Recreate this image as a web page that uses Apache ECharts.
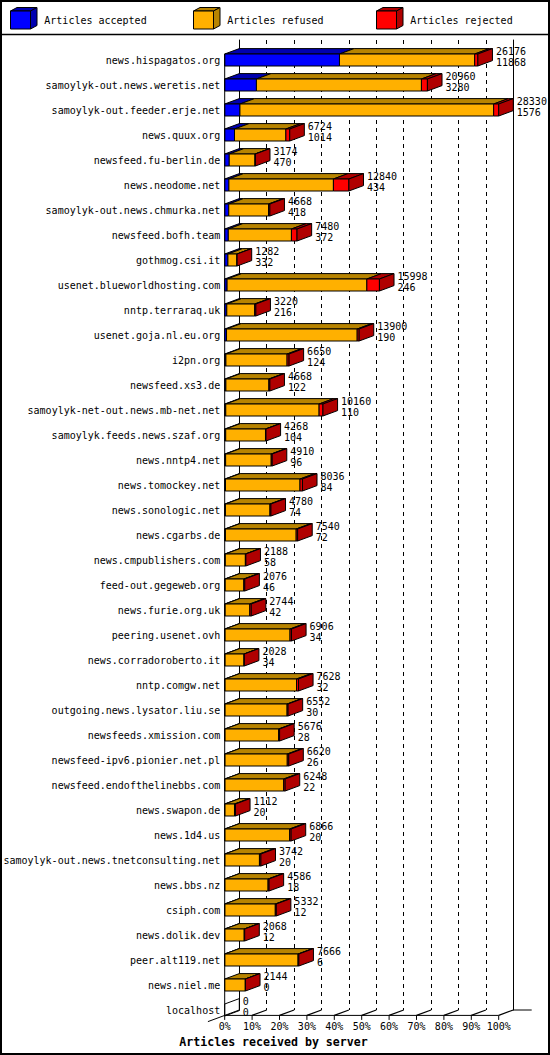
<!DOCTYPE html>
<html>
<head>
<meta charset="utf-8">
<script src="https://cdn.jsdelivr.net/npm/echarts@6/dist/echarts.min.js"></script>
<style>html,body{margin:0;padding:0;background:#fff}#c{width:550px;height:1055px}</style>
</head>
<body>
<div id="c"></div>
<script>
const hosts = ['news.hispagatos.org','samoylyk-out.news.weretis.net','samoylyk-out.feeder.erje.net','news.quux.org','newsfeed.fu-berlin.de','news.neodome.net','samoylyk-out.news.chmurka.net','newsfeed.bofh.team','gothmog.csi.it','usenet.blueworldhosting.com','nntp.terraraq.uk','usenet.goja.nl.eu.org','i2pn.org','newsfeed.xs3.de','samoylyk-net-out.news.mb-net.net','samoylyk.feeds.news.szaf.org','news.nntp4.net','news.tomockey.net','news.sonologic.net','news.cgarbs.de','news.cmpublishers.com','feed-out.gegeweb.org','news.furie.org.uk','peering.usenet.ovh','news.corradoroberto.it','nntp.comgw.net','outgoing.news.lysator.liu.se','newsfeeds.xmission.com','newsfeed-ipv6.pionier.net.pl','newsfeed.endofthelinebbs.com','news.swapon.de','news.1d4.us','samoylyk-out.news.tnetconsulting.net','news.bbs.nz','csiph.com','news.dolik.dev','peer.alt119.net','news.niel.me','localhost'];
const offered = [26176,20960,28330,6724,3174,12840,4668,7480,1282,15998,3220,13900,6650,4668,10160,4268,4910,8036,4780,7540,2188,2076,2744,6906,2028,7628,6552,5676,6620,6248,1112,6866,3742,4586,5332,2068,7666,2144,0];
const accepted = [11868,3280,1576,1014,470,434,418,372,332,246,216,190,124,122,110,104,96,84,74,72,58,46,42,34,34,32,30,28,26,22,20,20,20,18,12,12,6,0,0];
const rejected = [330,620,520,400,40,1600,130,580,10,1300,120,200,200,100,400,50,100,250,100,150,50,100,150,150,30,200,100,100,150,150,100,150,150,100,100,50,80,10,0];
const xTicks = [0,10,20,30,40,50,60,70,80,90,100];
const seriesNames = ['Articles accepted','Articles refused','Articles rejected'];
const frontColors = ['#0000ff','#ffb000','#ff0000'];
const darkColors = ['#0000b0','#b88400','#b00000'];

const maxOffered = Math.max(...offered);
const refused = offered.map((o,i)=>o-accepted[i]-rejected[i]);
const pct = v => v / maxOffered * 100;
const barData = hosts.map((h,i)=>[i, pct(accepted[i]), pct(refused[i]), pct(rejected[i]), offered[i], accepted[i]]);

const DX = 14.6, DY = 5.4, HALF = 6;
const MONO = '"DejaVu Sans Mono", monospace';

function renderBar(params, api) {
  const i = api.value(0);
  const segs = [api.value(1), api.value(2), api.value(3)];
  const base = api.coord([0, i]);
  const yc = base[1];
  const top = yc - HALF, bot = yc + HALF;
  const children = [];
  let cum = 0, lastDark = null;
  segs.forEach((v,k)=>{
    const xs = api.coord([cum, i])[0];
    cum += v;
    const xe = api.coord([cum, i])[0];
    if (v > 0) {
      children.push({type:'polygon', shape:{points:[[xs,top],[xs+DX,top-DY],[xe+DX,top-DY],[xe,top]]},
        style:{fill:darkColors[k], stroke:'#000', lineWidth:1}});
      children.push({type:'rect', shape:{x:xs, y:top, width:xe-xs, height:bot-top},
        style:{fill:frontColors[k], stroke:'#000', lineWidth:1}});
      lastDark = darkColors[k];
    }
  });
  const xe = api.coord([cum, i])[0];
  children.push({type:'polygon', shape:{points:[[xe,top],[xe+DX,top-DY],[xe+DX,bot-DY],[xe,bot]]},
    style:{fill:lastDark || 'none', stroke:'#000', lineWidth:1}});
  children.push({type:'text', style:{text:String(api.value(4)), x:xe+DX+3.5, y:yc-8.5, verticalAlign:'middle', align:'left', font:'10px '+MONO, fill:'#000'}});
  children.push({type:'text', style:{text:String(api.value(5)), x:xe+DX+3.5, y:yc+2.5, verticalAlign:'middle', align:'left', font:'10px '+MONO, fill:'#000'}});
  return {type:'group', children};
}

const chart = echarts.init(document.getElementById('c'), null, {renderer:'svg'});
const option = {
  backgroundColor:'#fff',
  animation:false,
  grid:[
    {left:224.7, top:47.5, width:274, height:975},
    {left:239.3, top:40, width:274, height:970}
  ],
  xAxis:[
    {gridIndex:0, type:'value', min:0, max:100, interval:10,
     axisLine:{show:false}, axisTick:{show:false}, splitLine:{show:false},
     axisLabel:{formatter:'{value}%', margin:-1, fontFamily:'DejaVu Sans Mono', fontSize:10, color:'#000'}},
    {gridIndex:1, type:'value', min:0, max:100, interval:10,
     axisLine:{show:false}, axisTick:{show:false}, axisLabel:{show:false},
     splitLine:{show:true, lineStyle:{color:'#000', width:1, type:[4,4]}}}
  ],
  yAxis:[
    {gridIndex:0, type:'category', data:hosts, inverse:true,
     axisLine:{show:false}, axisTick:{show:false}, splitLine:{show:false},
     axisLabel:{margin:4.5, fontFamily:'DejaVu Sans Mono', fontSize:10, color:'#000'}},
    {gridIndex:1, type:'value', min:0, max:1, position:'left',
     axisLine:{show:true, lineStyle:{color:'#000', width:1}}, axisTick:{show:false}, axisLabel:{show:false}, splitLine:{show:false}},
    {gridIndex:1, type:'value', min:0, max:1, position:'right',
     axisLine:{show:true, lineStyle:{color:'#000', width:1}}, axisTick:{show:false}, axisLabel:{show:false}, splitLine:{show:false}}
  ],
  series:[{
    type:'custom', name:seriesNames.join(' / '), xAxisIndex:0, yAxisIndex:0,
    renderItem:renderBar, data:barData, z:5,
    encode:{x:[1], y:0}
  }]
};
chart.setOption(option);

// chrome: legend, borders, floor
const g = [];
g.push({type:'rect', shape:{x:1, y:1, width:548, height:1053}, style:{fill:'none', stroke:'#000', lineWidth:2}, z:100});
g.push({type:'line', shape:{x1:0, y1:34.5, x2:550, y2:34.5}, style:{stroke:'#000', lineWidth:1.5}, z:100});
const legX = [10.5, 193.5, 376.5];
seriesNames.forEach((n,k)=>{
  const x = legX[k];
  g.push({type:'polygon', shape:{points:[[x,11],[x+6.5,7.5],[x+26.5,7.5],[x+20,11]]}, style:{fill:darkColors[k], stroke:'#000', lineWidth:1}, z:100});
  g.push({type:'polygon', shape:{points:[[x+20,11],[x+26.5,7.5],[x+26.5,25.5],[x+20,29]]}, style:{fill:darkColors[k], stroke:'#000', lineWidth:1}, z:100});
  g.push({type:'rect', shape:{x:x, y:11, width:20, height:18}, style:{fill:frontColors[k], stroke:'#000', lineWidth:1}, z:100});
  g.push({type:'text', style:{text:n, x:x+33.8, y:20, verticalAlign:'middle', align:'left', font:'10px '+MONO, fill:'#000'}, z:100});
});
g.push({type:'text', style:{text:'Articles received by server', x:273.5, y:1041.5, align:'center', verticalAlign:'middle', font:'bold 11.6px '+MONO, fill:'#000'}, z:100});

const fx = v => chart.convertToPixel({xAxisIndex:0}, v);
const floorBack = chart.convertToPixel({yAxisIndex:1}, 0);
const floorFront = floorBack + DY;
const firstTop = chart.convertToPixel({yAxisIndex:0}, 0) - HALF;
const x0 = fx(0), x100 = fx(100);
g.push({type:'line', shape:{x1:x0, y1:firstTop, x2:x0, y2:floorFront}, style:{stroke:'#000', lineWidth:1}, z:50});
g.push({type:'line', shape:{x1:x0-DX*1.15, y1:floorFront+DY*1.15, x2:x0+DX, y2:floorBack}, style:{stroke:'#000', lineWidth:1}, z:50});
g.push({type:'line', shape:{x1:x0, y1:floorFront, x2:x100, y2:floorFront}, style:{stroke:'#000', lineWidth:1}, z:50});
g.push({type:'line', shape:{x1:x100+DX, y1:floorBack, x2:x100+DX+18.4, y2:floorBack}, style:{stroke:'#000', lineWidth:1}, z:50});
xTicks.forEach(t=>{
  const x = fx(t);
  g.push({type:'line', shape:{x1:x, y1:floorFront, x2:x, y2:floorFront+4.5}, style:{stroke:'#000', lineWidth:1}, z:50});
  if (t > 0) g.push({type:'line', shape:{x1:x, y1:floorFront, x2:x+DX, y2:floorBack}, style:{stroke:'#000', lineWidth:1.2}, z:50});
});
chart.setOption({graphic:{elements:g}});
</script>
</body>
</html>
